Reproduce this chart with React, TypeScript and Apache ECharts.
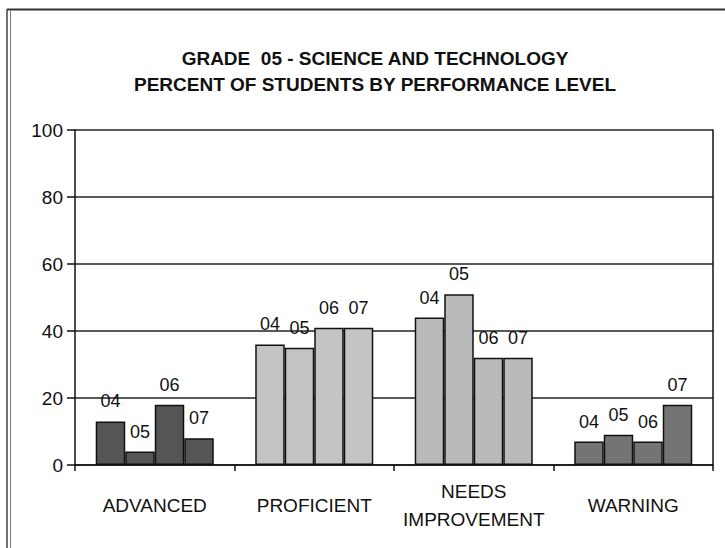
import React, { useEffect, useRef } from "react";
import * as echarts from "echarts";

const categories = ["ADVANCED", "PROFICIENT", "NEEDS\nIMPROVEMENT", "WARNING"];
const seriesNames = ["04", "05", "06", "07"];
const values04 = [13, 36, 44, 7];
const values05 = [4, 35, 51, 9];
const values06 = [18, 41, 32, 7];
const values07 = [8, 41, 32, 18];
const yTicks = [0, 20, 40, 60, 80, 100];

const categoryColors = ["#555555", "#c4c4c4", "#bababa", "#747474"];
const FONT = "'Liberation Sans', Arial, sans-serif";

export default function App() {
  const ref = useRef<HTMLDivElement>(null);
  useEffect(() => {
    if (!ref.current) return;
    const chart = echarts.init(ref.current, null, { renderer: "svg" });
    const allValues = [values04, values05, values06, values07];
    const series = seriesNames.map((name, si) => ({
      name,
      type: "bar",
      barGap: "0%",
      barCategoryGap: "26%",
      data: allValues[si].map((v, ci) => ({
        value: v,
        itemStyle: { color: categoryColors[ci] },
      })),
      itemStyle: { borderColor: "#111", borderWidth: 1.5 },
      label: {
        show: true,
        position: "top",
        distance: 11,
        formatter: "{a}",
        fontFamily: FONT,
        fontSize: 18,
        color: "#111",
      },
    }));
    chart.setOption({
      animation: false,
      backgroundColor: "#ffffff",
      title: {
        text: "GRADE  05 - SCIENCE AND TECHNOLOGY\nPERCENT OF STUDENTS BY PERFORMANCE LEVEL",
        left: 370,
        textAlign: "center",
        top: 40,
        textStyle: {
          fontFamily: FONT,
          fontWeight: "bold",
          fontSize: 19,
          lineHeight: 26,
          color: "#111",
        },
      },
      grid: { left: 75, right: 12, top: 130, bottom: 83 },
      xAxis: {
        type: "category",
        data: categories,
        axisLine: { show: true, lineStyle: { color: "#111", width: 1.5 } },
        axisTick: { show: true, alignWithLabel: false, length: 6, lineStyle: { color: "#111", width: 1.5 } },
        axisLabel: {
          interval: 0,
          fontFamily: FONT,
          fontSize: 19,
          lineHeight: 28,
          color: "#111",
          margin: 40,
          verticalAlign: "middle",
        },
      },
      yAxis: [
        {
          type: "value",
          min: yTicks[0],
          max: yTicks[yTicks.length - 1],
          interval: 20,
          axisLine: { show: true, lineStyle: { color: "#111", width: 1.5 } },
          axisTick: { show: true, length: 8, lineStyle: { color: "#111", width: 1.5 } },
          axisLabel: { fontFamily: FONT, fontSize: 19, color: "#111", margin: 12 },
          splitLine: { show: true, lineStyle: { color: "#222", width: 1.5 } },
        },
        {
          type: "value",
          position: "right",
          min: 0,
          max: 100,
          interval: 20,
          axisLine: { show: true, lineStyle: { color: "#111", width: 1.5 } },
          axisTick: { show: false },
          axisLabel: { show: false },
          splitLine: { show: false },
        },
      ],
      graphic: [
        { type: "line", shape: { x1: 7, y1: 9.5, x2: 725, y2: 9.5 }, style: { stroke: "#333", lineWidth: 2 } },
        { type: "line", shape: { x1: 7, y1: 9, x2: 7, y2: 548 }, style: { stroke: "#444", lineWidth: 1.5 } },
        { type: "line", shape: { x1: 10.5, y1: 11, x2: 10.5, y2: 548 }, style: { stroke: "#777", lineWidth: 1 } },
      ],
      series,
    });
    return () => chart.dispose();
  }, []);
  return (
    <div
      ref={ref}
      style={{ position: "fixed", left: 0, top: 0, width: 725, height: 548 }}
    />
  );
}
